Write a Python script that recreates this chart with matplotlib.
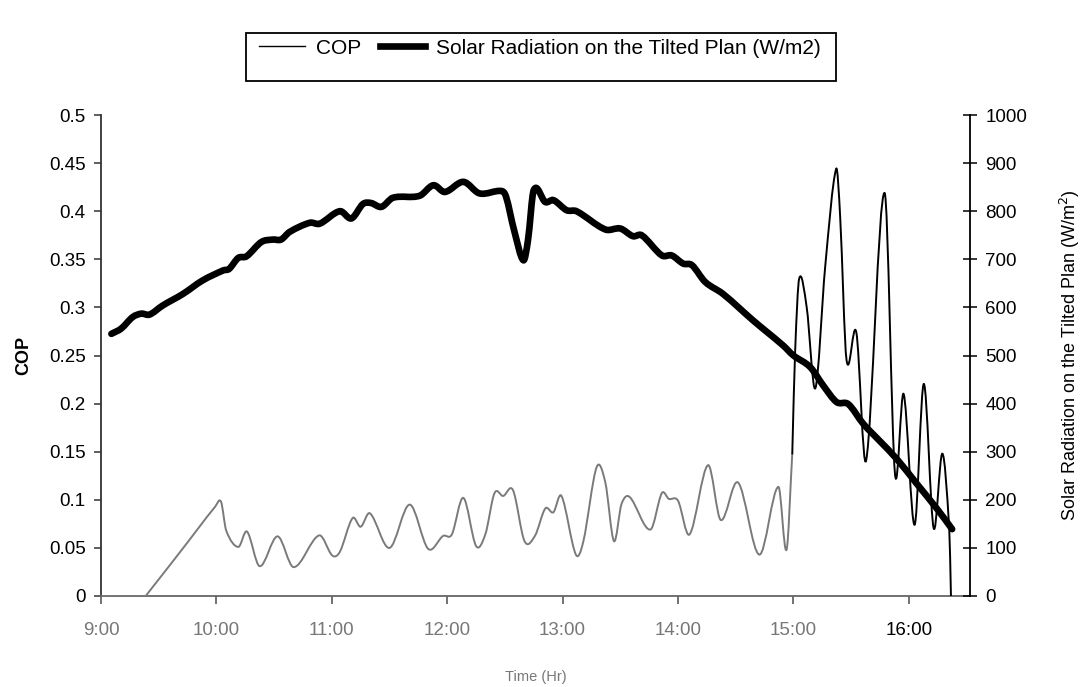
import matplotlib
matplotlib.use("Agg")
import matplotlib.pyplot as plt
from matplotlib.patches import Rectangle, PathPatch
from matplotlib.path import Path
from matplotlib.lines import Line2D

plt.rcParams['font.family'] = ['Liberation Sans', 'DejaVu Sans']

# ---- data (time in decimal hours) ----
cop_time = [9.00, 9.385, 9.40, 9.70, 9.99, 10.04, 10.085, 10.19, 10.265, 10.375, 10.53, 10.67,
            10.89, 11.005, 11.07, 11.18, 11.25, 11.33, 11.50, 11.675, 11.835, 11.965,
            12.04, 12.14, 12.25, 12.33, 12.41, 12.485, 12.57, 12.67, 12.76, 12.85,
            12.92, 12.99, 13.115, 13.18, 13.295, 13.37, 13.445, 13.51, 13.58, 13.76,
            13.86, 13.92, 14.00, 14.10, 14.26, 14.37, 14.52, 14.705, 14.87, 14.94,
            14.99, 15.015, 15.05, 15.115, 15.19, 15.275, 15.37, 15.405, 15.46, 15.545,
            15.63, 15.79, 15.88, 15.955, 16.05, 16.13, 16.215, 16.29, 16.35, 16.365]
cop_value = [0, 0, 0.002, 0.048, 0.093, 0.098, 0.068, 0.051, 0.067, 0.031, 0.062, 0.030,
             0.063, 0.042, 0.046, 0.081, 0.072, 0.086, 0.050, 0.095, 0.049, 0.0625,
             0.064, 0.102, 0.052, 0.064, 0.107, 0.104, 0.110, 0.057, 0.0625, 0.091,
             0.087, 0.104, 0.043, 0.057, 0.134, 0.118, 0.057, 0.0955, 0.103, 0.069,
             0.107, 0.101, 0.099, 0.064, 0.136, 0.079, 0.118, 0.043, 0.1135, 0.048,
             0.148, 0.255, 0.330, 0.300, 0.216, 0.342, 0.444, 0.394, 0.2455, 0.274,
             0.141, 0.419, 0.127, 0.210, 0.074, 0.2205, 0.0705, 0.148, 0.070, 0.0]

rad_time = [9.09, 9.175, 9.275, 9.35, 9.42, 9.535, 9.71, 9.88, 10.06, 10.11,
            10.19, 10.26, 10.39, 10.49, 10.56, 10.635, 10.81, 10.895, 11.07, 11.17,
            11.27, 11.34, 11.43, 11.53, 11.76, 11.88, 11.98, 12.14, 12.28, 12.47,
            12.51, 12.58, 12.66, 12.70, 12.75, 12.85, 12.92, 13.035, 13.12, 13.37,
            13.50, 13.61, 13.685, 13.86, 13.945, 14.045, 14.12, 14.235, 14.39, 14.65,
            14.755, 14.91, 15.00, 15.145, 15.26, 15.375, 15.475, 15.605, 15.745, 15.895,
            16.07, 16.245, 16.375]
rad_value = [545, 556, 580, 587, 585, 604, 628, 656, 677, 680,
             703, 706, 736, 741, 741, 757, 776, 774, 800, 785,
             815, 817, 809, 828, 832, 854, 840, 861, 837, 842,
             830, 760, 698, 740, 844, 819, 823, 802, 800, 762,
             764, 748, 750, 708, 708, 691, 688, 653, 628, 573,
             552, 521, 500, 476, 437, 403, 399, 358, 323, 285,
             233, 181, 139]

x_ticks = [9, 10, 11, 12, 13, 14, 15, 16]
x_tick_labels = ["9:00", "10:00", "11:00", "12:00", "13:00", "14:00", "15:00", "16:00"]
cop_ticks = [0, 0.05, 0.1, 0.15, 0.2, 0.25, 0.3, 0.35, 0.4, 0.45, 0.5]
cop_tick_labels = ["0", "0.05", "0.1", "0.15", "0.2", "0.25", "0.3", "0.35", "0.4", "0.45", "0.5"]
rad_ticks = [0, 100, 200, 300, 400, 500, 600, 700, 800, 900, 1000]


def smooth_path(xs, ys):
    """Smoothed line drawn as cubic Hermite (Bezier) segments through every data point."""
    n = len(xs)
    slopes = []
    for i in range(n):
        a, b = max(i - 1, 0), min(i + 1, n - 1)
        slopes.append((ys[b] - ys[a]) / (xs[b] - xs[a]))
    verts = [(xs[0], ys[0])]
    codes = [Path.MOVETO]
    for i in range(n - 1):
        dx = xs[i + 1] - xs[i]
        c1 = (xs[i] + dx / 3.0, ys[i] + slopes[i] * dx / 3.0)
        c2 = (xs[i + 1] - dx / 3.0, ys[i + 1] - slopes[i + 1] * dx / 3.0)
        verts += [c1, c2, (xs[i + 1], ys[i + 1])]
        codes += [Path.CURVE4] * 3
    return Path(verts, codes)


fig = plt.figure(figsize=(10.9, 6.87), dpi=100)
ax = fig.add_axes([101/1090, 1 - 596/687, (970-101)/1090, (596-115)/687])
ax2 = ax.twinx()

# COP line: grey (watermark area) before 15:00, black after
split = cop_time.index(14.99)
ax.add_patch(PathPatch(smooth_path(cop_time[:split + 1], cop_value[:split + 1]),
                       fill=False, edgecolor='#7a7a7a', lw=1.4, zorder=3,
                       capstyle='round', joinstyle='round'))
ax.add_patch(PathPatch(smooth_path(cop_time[split:], cop_value[split:]),
                       fill=False, edgecolor='black', lw=1.4, zorder=3,
                       capstyle='round', joinstyle='round'))
ax2.add_patch(PathPatch(smooth_path(rad_time, rad_value), fill=False,
                        edgecolor='black', lw=4.8, zorder=4,
                        capstyle='round', joinstyle='round'))

ax.set_xlim(9, 16.53)
ax.set_ylim(0, 0.5)
ax2.set_ylim(0, 1000)

ax.set_xticks(x_ticks)
ax.set_xticklabels(x_tick_labels)
ax.set_yticks(cop_ticks)
ax.set_yticklabels(cop_tick_labels)
ax2.set_yticks(rad_ticks)
ax2.set_yticklabels([str(v) for v in rad_ticks])

ax.spines['top'].set_visible(False)
ax2.spines['top'].set_visible(False)
ax.spines['right'].set_visible(False)
ax2.spines['left'].set_visible(False)
ax2.spines['bottom'].set_visible(False)
ax.spines['left'].set_color('#333333')
ax.spines['bottom'].set_color('#666666')
ax2.spines['right'].set_color('black')
for s in [ax.spines['left'], ax.spines['bottom'], ax2.spines['right']]:
    s.set_linewidth(1.3)

ax.tick_params(axis='x', direction='out', length=6, width=1.3, colors='#666666',
               labelsize=13.5, pad=13)
ax.tick_params(axis='y', direction='out', length=5, width=1.1, colors='#333333',
               labelsize=13.5, labelcolor='black', pad=6)
ax2.tick_params(axis='y', direction='inout', length=10, width=1.1, colors='black',
                labelsize=13.5, pad=6)
for lbl in ax.get_xticklabels()[:-1]:
    lbl.set_color('#777777')
ax.get_xticklabels()[-1].set_color('black')

ax.set_ylabel('COP', fontsize=13, fontweight='bold', labelpad=12)
ax2.set_ylabel('Solar Radiation on the Tilted Plan (W/m$^2$)', fontsize=13, labelpad=22)
ax.set_xlabel('Time (Hr)', fontsize=10.5, color='#777777', labelpad=22)

# legend box
fig.patches.append(Rectangle((246/1090, 1 - 81/687), (836-246)/1090, (81-33)/687,
                             transform=fig.transFigure, fill=False, edgecolor='black',
                             lw=1.3, zorder=5))
handles = [Line2D([], [], color='black', lw=1.0),
           Line2D([], [], color='black', lw=4.8)]
fig.legend(handles, ['COP', 'Solar Radiation on the Tilted Plan (W/m2)'],
           loc='center', bbox_to_anchor=(540/1090, 1 - 48/687), ncol=2,
           frameon=False, fontsize=15, handlelength=2.2, handletextpad=0.5,
           columnspacing=0.9)

fig.savefig('out.png', dpi=100)
